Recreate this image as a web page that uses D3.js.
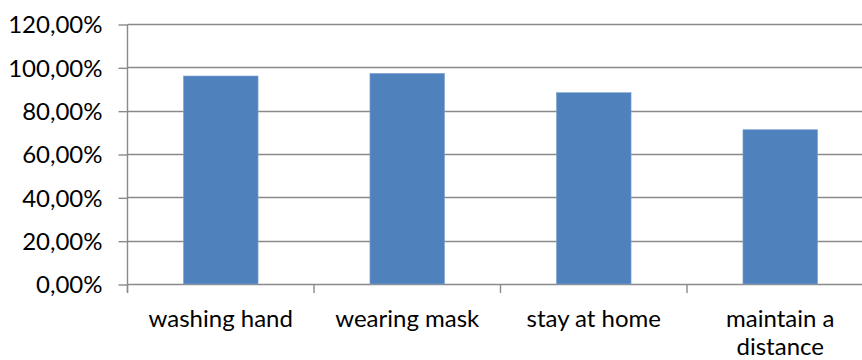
<!DOCTYPE html>
<html>
<head>
<meta charset="utf-8">
<script src="https://cdn.jsdelivr.net/npm/d3@7"></script>
<style>
  html, body { margin: 0; padding: 0; background: #fff; }
  svg { display: block; }
  text { font-family: Lato, "Open Sans", sans-serif; fill: #000; }
</style>
</head>
<body>
<svg id="chart" width="862" height="360"></svg>
<script>
// Share of respondents practising each preventive measure
const categories = ["washing hand", "wearing mask", "stay at home", "maintain a distance"];
const categoryLines = [["washing hand"], ["wearing mask"], ["stay at home"], ["maintain a", "distance"]];
const values = [0.960, 0.972, 0.883, 0.712];
const yTicks = [0, 0.2, 0.4, 0.6, 0.8, 1.0, 1.2];

const svg = d3.select("#chart");
const plotLeft = 127.5, plotTop = 24, plotBottom = 284;
const bandW = 186.5;
const fontSize = "24px";

const x = d3.scaleBand()
  .domain(categories)
  .range([plotLeft, plotLeft + bandW * categories.length])
  .paddingInner(0.6)
  .paddingOuter(0.3);

const y = d3.scaleLinear().domain([0, 1.2]).range([plotBottom, plotTop]);

const pct = d => d3.format(".2f")(d * 100).replace(".", ",") + "%";

// horizontal gridlines
svg.append("g")
  .selectAll("line")
  .data(yTicks)
  .join("line")
  .attr("x1", plotLeft).attr("x2", 862)
  .attr("y1", d => Math.round(y(d)) + 0.5).attr("y2", d => Math.round(y(d)) + 0.5)
  .attr("stroke", "#8a8a8a").attr("stroke-width", 1.4);

// bars
svg.append("g")
  .selectAll("rect")
  .data(values)
  .join("rect")
  .attr("x", (d, i) => x(categories[i]))
  .attr("width", x.bandwidth())
  .attr("y", d => y(d))
  .attr("height", d => plotBottom - y(d))
  .attr("fill", "#4f81bd")
  .attr("stroke", "#7fa3cf")
  .attr("stroke-width", 0.6);

// y axis
const yAxis = svg.append("g")
  .attr("transform", `translate(${plotLeft},0.5)`)
  .call(d3.axisLeft(y).tickValues(yTicks).tickFormat(pct).tickSize(9).tickPadding(16));
yAxis.select(".domain").attr("stroke", "#8a8a8a").attr("stroke-width", 1.4)
  .attr("d", `M0,${plotTop}V${plotBottom + 8}`);
yAxis.selectAll(".tick line").attr("stroke", "#8a8a8a").attr("stroke-width", 1.4);
yAxis.selectAll(".tick text").style("font-size", fontSize).attr("dy", "0.34em");

// x axis with boundary ticks between categories
const xBounds = d3.range(categories.length).map(i => plotLeft + i * bandW);
svg.append("g")
  .selectAll("line")
  .data(xBounds)
  .join("line")
  .attr("x1", d => d).attr("x2", d => d)
  .attr("y1", plotBottom).attr("y2", plotBottom + 9)
  .attr("stroke", "#8a8a8a").attr("stroke-width", 1.4);

// category labels
const labels = svg.append("g")
  .selectAll("text")
  .data(categoryLines)
  .join("text")
  .attr("text-anchor", "middle")
  .style("font-size", fontSize)
  .attr("x", (d, i) => x(categories[i]) + x.bandwidth() / 2)
  .attr("y", 327);
labels.selectAll("tspan")
  .data(d => d)
  .join("tspan")
  .attr("x", function () { return this.parentNode.getAttribute("x"); })
  .attr("dy", (d, i) => i === 0 ? 0 : 28)
  .text(d => d);
</script>
</body>
</html>
